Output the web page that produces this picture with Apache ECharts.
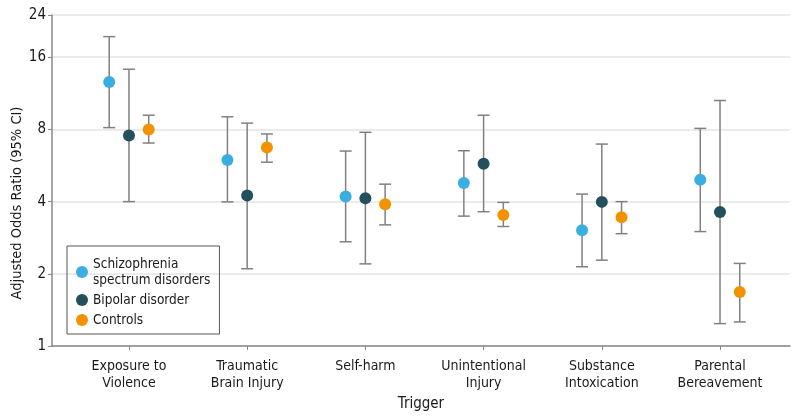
<!DOCTYPE html>
<html>
<head>
<meta charset="utf-8">
<script src="https://cdn.jsdelivr.net/npm/echarts@6/dist/echarts.min.js"></script>
<style>html,body{margin:0;padding:0;background:#fff}#c{width:800px;height:417px}</style>
</head>
<body>
<div id="c"></div>
<script>
var categories = ['Exposure to\nViolence', 'Traumatic\nBrain Injury', 'Self-harm', 'Unintentional\nInjury', 'Substance\nIntoxication', 'Parental\nBereavement'];
var seriesNames = ['Schizophrenia\nspectrum disorders', 'Bipolar disorder', 'Controls'];
var yTicks = [1, 2, 4, 8, 16, 24];

var schizoOR   = [12.6, 5.96, 4.20, 4.78, 3.04, 4.93];
var schizoLow  = [8.14, 3.99, 2.72, 3.48, 2.14, 3.00];
var schizoHigh = [19.5, 9.03, 6.50, 6.52, 4.30, 8.08];

var bipolarOR   = [7.54, 4.24, 4.13, 5.75, 3.99, 3.62];
var bipolarLow  = [4.00, 2.10, 2.20, 3.63, 2.28, 1.24];
var bipolarHigh = [14.26, 8.50, 7.78, 9.17, 6.95, 10.56];

var controlsOR   = [8.00, 6.73, 3.90, 3.52, 3.44, 1.68];
var controlsLow  = [7.02, 5.84, 3.20, 3.15, 2.94, 1.26];
var controlsHigh = [9.17, 7.66, 4.73, 3.97, 4.00, 2.21];

var FONT = "'Liberation Sans Narrow', 'DejaVu Sans Condensed', sans-serif";
var colors = ['#3aaee0', '#23505c', '#f39200'];
var offsets = [-0.167, 0, 0.167];
var groups = [
  {or: schizoOR, lo: schizoLow, hi: schizoHigh},
  {or: bipolarOR, lo: bipolarLow, hi: bipolarHigh},
  {or: controlsOR, lo: controlsLow, hi: controlsHigh}
];

var series = [];
groups.forEach(function (g, s) {
  series.push({
    type: 'custom',
    name: 'ci' + s,
    silent: true,
    z: 2,
    data: categories.map(function (c, i) { return [i + offsets[s], g.lo[i], g.hi[i]]; }),
    renderItem: function (params, api) {
      var lo = api.coord([api.value(0), api.value(1)]);
      var hi = api.coord([api.value(0), api.value(2)]);
      var hw = 6;
      var st = {stroke: '#808080', lineWidth: 1.5};
      return {
        type: 'group',
        children: [
          {type: 'line', shape: {x1: lo[0], y1: lo[1], x2: hi[0], y2: hi[1]}, style: st},
          {type: 'line', shape: {x1: lo[0] - hw, y1: lo[1], x2: lo[0] + hw, y2: lo[1]}, style: st},
          {type: 'line', shape: {x1: hi[0] - hw, y1: hi[1], x2: hi[0] + hw, y2: hi[1]}, style: st}
        ]
      };
    }
  });
});
groups.forEach(function (g, s) {
  series.push({
    type: 'scatter',
    name: seriesNames[s],
    z: 5,
    symbol: 'circle',
    symbolSize: 12,
    itemStyle: {color: colors[s], opacity: 1},
    data: categories.map(function (c, i) { return [i + offsets[s], g.or[i]]; })
  });
});

var chart = echarts.init(document.getElementById('c'), null, {renderer: 'canvas'});
chart.setOption({
  animation: false,
  backgroundColor: '#fff',
  textStyle: {fontFamily: FONT},
  grid: {left: 52, right: 10, top: 15, bottom: 66, containLabel: false},
  legend: {
    data: seriesNames,
    orient: 'vertical',
    left: 67, top: 246,
    padding: [10, 9, 6, 9],
    itemGap: 4,
    itemWidth: 12, itemHeight: 12,
    icon: 'circle',
    borderColor: '#555', borderWidth: 1,
    textStyle: {fontFamily: FONT, fontSize: 13.5, color: '#1a1a1a', lineHeight: 16}
  },
  xAxis: {
    type: 'value',
    min: -0.651, max: 5.592,
    splitLine: {show: false},
    axisLine: {show: true, onZero: false, lineStyle: {color: '#888', width: 1.5}},
    axisTick: {show: true, customValues: [0, 1, 2, 3, 4, 5], length: 4, lineStyle: {color: '#888'}},
    axisLabel: {
      customValues: [0, 1, 2, 3, 4, 5],
      fontFamily: FONT, fontSize: 14, color: '#1a1a1a', lineHeight: 17, margin: 12,
      formatter: function (v) { return categories[Math.round(v)]; }
    },
    name: 'Trigger',
    nameLocation: 'middle',
    nameGap: 51,
    nameTextStyle: {fontFamily: FONT, fontSize: 15, color: '#1a1a1a'}
  },
  yAxis: {
    type: 'log',
    logBase: 2,
    min: 1, max: 24,
    axisLine: {show: true, onZero: false, lineStyle: {color: '#888', width: 1.5}},
    axisTick: {show: true, length: 4, lineStyle: {color: '#888'}},
    splitLine: {show: true, lineStyle: {color: '#e4e4e4', width: 1.5}},
    axisLabel: {
      fontFamily: FONT, fontSize: 15, color: '#1a1a1a', margin: 6,
      formatter: function (v) { return String(Math.round(v)); }
    }
  },
  graphic: [{
    type: 'text',
    rotation: Math.PI / 2,
    x: 17, y: 203,
    style: {text: 'Adjusted Odds Ratio (95% CI)', font: '14.5px ' + FONT, fill: '#1a1a1a', align: 'center', verticalAlign: 'middle'}
  }],
  series: series
});
</script>
</body>
</html>
